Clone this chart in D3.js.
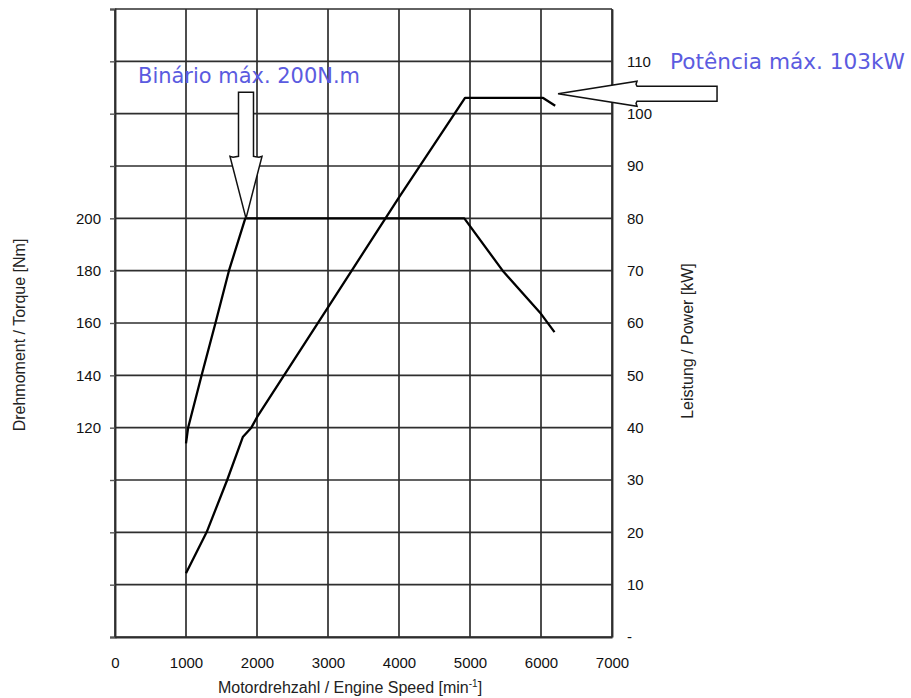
<!DOCTYPE html>
<html>
<head>
<meta charset="utf-8">
<script src="https://cdn.jsdelivr.net/npm/d3@7"></script>
<style>
  html, body { margin: 0; padding: 0; background: #fff; }
  svg text { font-family: "Liberation Sans", Arial, sans-serif; }
</style>
</head>
<body>
<div class="engine-chart"></div>
<script>
// engine speed [min-1] and readings
const torqueRpm = [1000, 1030, 1220, 1415, 1605, 1835, 4920, 5460, 6000, 6190];
const torqueNm = [114, 120, 140, 160, 180, 200, 200, 180, 163.5, 156.5];

const powerRpm = [1000, 1290, 1580, 1800, 1920, 2000, 3000, 4000, 4930, 6030, 6200];
const powerKw = [12.2, 20, 30, 38.2, 40, 42, 63, 84, 103, 103, 101.5];

const speedTicks = [0, 1000, 2000, 3000, 4000, 5000, 6000, 7000];
const torqueTicks = [40, 60, 80, 100, 120, 140, 160, 180, 200, 220, 240, 260, 280];
const torqueLabels = [120, 140, 160, 180, 200];
const powerTicks = [0, 10, 20, 30, 40, 50, 60, 70, 80, 90, 100, 110, 120];

const maxTorque = {rpm: 1845, value: 200, text: 'Binário máx. 200N.m'};
const maxPower = {rpm: 6240, value: 103.8, text: 'Potência máx. 103kW'};

const width = 911;
const height = 698;
const plotLeft = 115;
const plotRight = 612;
const plotTop = 9;
const plotBottom = 637;

const svg = d3.select('.engine-chart').append('svg')
  .attr('width', width)
  .attr('height', height);

const x = d3.scaleLinear().domain([0, 7000]).range([plotLeft, plotRight]);
const yPower = d3.scaleLinear().domain([0, 120]).range([plotBottom, plotTop]);
const yTorque = d3.scaleLinear().domain([40, 280]).range([plotBottom, plotTop]);

const appendGrid = () => {
  const grid = svg.append('g').attr('class', 'grid')
    .style('stroke', '#2e2e2e')
    .style('stroke-width', 1.7);

  grid.selectAll('line.v')
    .data(speedTicks)
    .enter().append('line')
    .attr('class', 'v')
    .attr('x1', (d) => x(d))
    .attr('x2', (d) => x(d))
    .attr('y1', plotTop)
    .attr('y2', plotBottom);

  grid.selectAll('line.h')
    .data(powerTicks)
    .enter().append('line')
    .attr('class', 'h')
    .attr('x1', plotLeft)
    .attr('x2', plotRight)
    .attr('y1', (d) => yPower(d))
    .attr('y2', (d) => yPower(d));
};

const appendAxes = () => {
  const xAxis = d3.axisBottom(x).tickValues(speedTicks).tickSize(0).tickPadding(20)
    .tickFormat(d3.format('d'));
  const yLeft = d3.axisLeft(yTorque).tickValues(torqueTicks).tickSize(5).tickPadding(9)
    .tickFormat((d) => (torqueLabels.includes(d) ? d : ''));
  const yRight = d3.axisRight(yPower).tickValues(powerTicks).tickSize(0).tickPadding(15)
    .tickFormat((d) => (d === 0 ? '-' : d === 120 ? '' : d));

  [
    svg.append('g').attr('transform', `translate(0,${plotBottom})`).call(xAxis),
    svg.append('g').attr('transform', `translate(${plotLeft},0)`).call(yLeft),
    svg.append('g').attr('transform', `translate(${plotRight},0)`).call(yRight),
  ].forEach((g) => {
    g.select('.domain').style('stroke', '#2e2e2e').style('stroke-width', 1.9);
    g.selectAll('.tick line').style('stroke', '#555').style('stroke-width', 1.4);
    g.selectAll('.tick text')
      .style('font-family', '"Liberation Sans", Arial, sans-serif')
      .style('font-size', '15px')
      .style('fill', '#111');
  });

  const xTitle = svg.append('text')
    .attr('x', 350)
    .attr('y', 693)
    .attr('text-anchor', 'middle')
    .style('font-size', '16px')
    .style('fill', '#222');
  xTitle.append('tspan').text('Motordrehzahl / Engine Speed [min');
  xTitle.append('tspan').attr('dy', -6).style('font-size', '10px').text('-1');
  xTitle.append('tspan').attr('dy', 6).text(']');

  svg.append('text')
    .attr('transform', 'translate(25,335) rotate(-90)')
    .attr('text-anchor', 'middle')
    .style('font-size', '16px')
    .style('fill', '#222')
    .text('Drehmoment / Torque [Nm]');

  svg.append('text')
    .attr('transform', 'translate(693,341) rotate(-90)')
    .attr('text-anchor', 'middle')
    .style('font-size', '16px')
    .style('fill', '#222')
    .text('Leistung / Power [kW]');
};

const appendCurves = () => {
  const torqueLine = d3.line()
    .x((d, i) => x(torqueRpm[i]))
    .y((d) => yTorque(d));

  const powerLine = d3.line()
    .x((d, i) => x(powerRpm[i]))
    .y((d) => yPower(d));

  svg.append('path')
    .attr('d', torqueLine(torqueNm))
    .style('fill', 'none')
    .style('stroke', '#000')
    .style('stroke-width', 2.3)
    .style('stroke-linejoin', 'round');

  svg.append('path')
    .attr('d', powerLine(powerKw))
    .style('fill', 'none')
    .style('stroke', '#000')
    .style('stroke-width', 2.3)
    .style('stroke-linejoin', 'round');
};

// block arrow pointing at (tx, ty); dir: 'down' or 'left'
const blockArrow = (tx, ty, dir, length, headLength, headHalf, shaftHalf) => {
  const pts = [
    [0, 0],
    [headLength, -headHalf],
    [headLength - 1, -headHalf + 3],
    [headLength, -shaftHalf],
    [length, -shaftHalf],
    [length, shaftHalf],
    [headLength, shaftHalf],
    [headLength - 1, headHalf - 3],
    [headLength, headHalf],
  ];
  const placed = pts.map(([a, b]) => (dir === 'down' ? [tx + b, ty - a] : [tx + a, ty + b]));
  svg.append('path')
    .attr('d', d3.line()(placed) + 'Z')
    .style('fill', '#fff')
    .style('stroke', '#111')
    .style('stroke-width', 1.5);
};

const appendAnnotations = () => {
  blockArrow(x(maxTorque.rpm), yTorque(maxTorque.value), 'down', 126, 62, 16, 7.5);
  blockArrow(x(maxPower.rpm), yPower(maxPower.value), 'left', 159, 79, 12.5, 7.5);

  svg.append('text')
    .attr('x', 138)
    .attr('y', 83)
    .attr('textLength', 222)
    .attr('lengthAdjust', 'spacingAndGlyphs')
    .style('font-family', '"DejaVu Sans", Verdana, sans-serif')
    .style('font-size', '20.5px')
    .style('fill', '#5b5be0')
    .text(maxTorque.text);

  svg.append('text')
    .attr('x', 670)
    .attr('y', 69)
    .attr('textLength', 235)
    .attr('lengthAdjust', 'spacingAndGlyphs')
    .style('font-family', '"DejaVu Sans", Verdana, sans-serif')
    .style('font-size', '20.5px')
    .style('fill', '#5b5be0')
    .text(maxPower.text);
};

appendGrid();
appendAxes();
appendCurves();
appendAnnotations();
</script>
</body>
</html>
